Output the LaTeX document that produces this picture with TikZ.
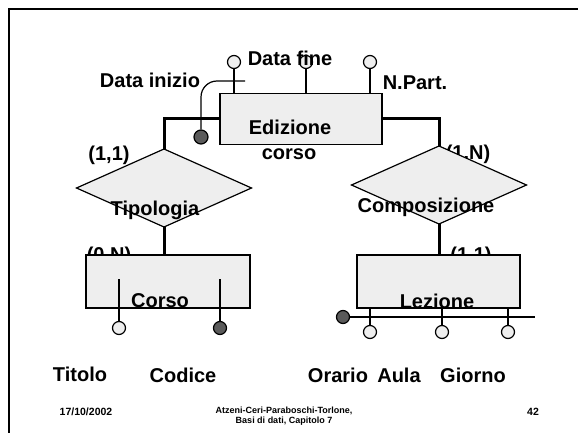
\documentclass[tikz,border=0pt]{standalone}
\usepackage{fontspec}
\setmainfont{Liberation Sans}
\usetikzlibrary{shapes.geometric}
\definecolor{boxfill}{RGB}{238,238,238}
\definecolor{keyfill}{RGB}{90,90,90}
\begin{document}
\begin{tikzpicture}[x=1pt,y=-1pt,
  thin line/.style={line width=1.2pt},
  thick line/.style={line width=3pt},
  entity/.style={draw,line width=1.2pt,fill=boxfill,inner sep=0pt},
  relation/.style={draw,diamond,line width=1.2pt,fill=boxfill,inner sep=0pt,outer sep=0pt,minimum width=175pt,minimum height=78pt},
  attr/.style={draw,circle,line width=1.2pt,fill=boxfill,inner sep=0pt,minimum size=13pt},
  keyattr/.style={attr,fill=keyfill},
  lbl/.style={font=\fontsize{20}{22}\selectfont\bfseries,inner sep=0pt},
  foot/.style={font=\fontsize{10.5}{11}\selectfont\bfseries,inner sep=0pt,align=center},
  footsmall/.style={font=\fontsize{9}{10}\selectfont\bfseries,inner sep=0pt,align=center}]
\useasboundingbox (0,0) rectangle (578,433);
% frame
\coordinate (fbl) at (9,433);
\coordinate (ftl) at (9,9);
\coordinate (ftr) at (578,9);
\draw[line width=1.5pt] (fbl) -- (ftl) -- (ftr);

% cardinality labels (behind shapes)
\node[lbl] (c11a) at (109,155) {(1,1)};
\node[lbl] (c1N) at (468,154) {(1,N)};
\node[lbl] (c0N) at (109,256) {(0,N)};
\node[lbl] (c11b) at (471,256) {(1,1)};

% Edizione corso attributes (top)
\node[attr] (a1) at (234,62) {};
\node[attr] (a2) at (306,62) {};
\node[attr] (a3) at (370,62) {};

% entities
\node[entity,minimum width=162pt,minimum height=51pt] (ed) at (301,119) {};
\node[entity,minimum width=164pt,minimum height=53pt] (corso) at (168,281.5) {};
\node[entity,minimum width=163pt,minimum height=53pt] (lez) at (438.5,281.5) {};

% relationships
\node[relation] (tip) at (164,188) {};
\node[relation] (comp) at (439,185) {};

% connectors entity - relationship
\draw[thick line] (ed.west) -| (tip.north);
\draw[thick line] (ed.east) -| (comp.north);
\draw[thick line] (tip.south) -- (tip.south |- corso.north);
\draw[thick line] (comp.south) -- (comp.south |- lez.north);

% attribute links top
\draw[thin line] (a1.south) -- (a1.south |- ed.north);
\draw[thin line] (a2.south) -- (a2.south |- ed.north);
\draw[thin line] (a3.south) -- (a3.south |- ed.north);

% external identifier Data inizio + Tipologia
\node[keyattr,minimum size=14pt] (k1) at (201,137) {};
\coordinate (k1t) at (201,97);
\coordinate (k1e) at (245,81);
\draw[thin line] (k1.north) -- (k1t) arc[start angle=180,end angle=270,radius=16] -- (k1e);

% Corso attributes
\coordinate (t0) at (119,279);
\coordinate (c0) at (220,279);
\node[attr] (tit) at (119,328) {};
\node[keyattr] (cod) at (220,328) {};
\draw[thin line] (t0) -- (tit.north);
\draw[thin line] (c0) -- (cod.north);

% Lezione attributes
\node[attr] (ora) at (370,332) {};
\node[attr] (aul) at (442,332) {};
\node[attr] (gio) at (508,332) {};
\draw[thin line] (ora.north |- lez.south) -- (ora.north);
\draw[thin line] (aul.north |- lez.south) -- (aul.north);
\draw[thin line] (gio.north |- lez.south) -- (gio.north);
\node[keyattr] (k2) at (343,317) {};
\coordinate (k2e) at (535,317);
\draw[thin line] (k2.east) -- (k2e);

% labels
\node[lbl] (ldi) at (150,80) {Data inizio};
\node[lbl] (ldf) at (290,58) {Data fine};
\node[lbl] (lnp) at (415,83) {N.Part.};
\node[lbl] (led) at (290,127) {Edizione};
\node[lbl] (lco) at (289,154) {corso};
\node[lbl] (ltp) at (155,210) {Tipologia};
\node[lbl] (lcm) at (426,207) {Composizione};
\node[lbl] (lcs) at (160,301) {Corso};
\node[lbl] (llz) at (437,301) {Lezione};
\node[lbl] (ltit) at (80,374) {Titolo};
\node[lbl] (lcod) at (183,375) {Codice};
\node[lbl] (lora) at (338,375) {Orario};
\node[lbl] (laul) at (399,375) {Aula};
\node[lbl] (lgio) at (473,375) {Giorno};

% footer
\node[foot] (fdate) at (86,412) {17/10/2002};
\node[footsmall] (fauth) at (284,416) {Atzeni-Ceri-Paraboschi-Torlone,\\Basi di dati, Capitolo 7};
\node[foot] (fpage) at (533,412) {42};
\end{tikzpicture}
\end{document}
